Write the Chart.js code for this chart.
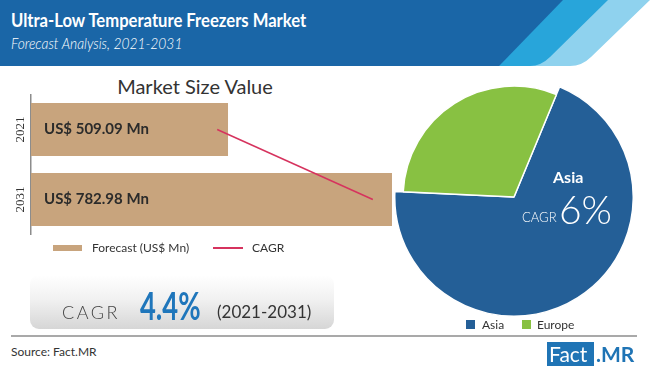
<!DOCTYPE html>
<html>
<head>
<meta charset="utf-8">
<script src="https://cdn.jsdelivr.net/npm/chart.js@4.4.0/dist/chart.umd.min.js"></script>
<style>
  body { margin: 0; width: 650px; height: 370px; overflow: hidden; background: #fff; position: relative; font-family: Lato, "Open Sans", sans-serif; color: #333; }
  .abs { position: absolute; white-space: nowrap; }
  #title { left: 11px; top: 10px; font-size: 19px; font-weight: bold; color: #fff; line-height: 19px; transform: scaleX(0.875); transform-origin: left top; }
  #subtitle { left: 11px; top: 36px; font-size: 15px; font-style: italic; color: #fff; line-height: 15px; font-weight: 300; transform: scaleX(0.92); transform-origin: left top; }
  #barTitle { left: 0; width: 390px; text-align: center; top: 76px; font-size: 20px; line-height: 20px; color: #333; }
  .lg { font-size: 12px; line-height: 12px; top: 242px; color: #333; }
  #cagrBox { left: 30px; top: 275px; width: 304px; height: 54px; border-radius: 9px; background: linear-gradient(to bottom, #ffffff 0%, #f1f1f1 45%, #d6d6d6 100%); }
  #rule { left: 11px; top: 335px; width: 626px; height: 2px; background: #a9a9a9; }
</style>
</head>
<body>
<svg class="abs" style="left:0;top:0" width="650" height="66">
  <path d="M0 0 H650 L591 57 Q582 66 570 66 H0 Z" fill="#8fd2ee"/>
  <path d="M0 0 H608 L550 57 Q541 66 530 66 H0 Z" fill="#28a5da"/>
  <path d="M0 0 H563 L499 66 H0 Z" fill="#1a66a7"/>
</svg>
<div id="title" class="abs">Ultra-Low Temperature Freezers Market</div>
<div id="subtitle" class="abs">Forecast Analysis, 2021-2031</div>

<div id="barTitle" class="abs">Market Size Value</div>
<canvas id="barChart" class="abs" style="left:0;top:66px" width="395" height="180"></canvas>

<div class="abs" style="left:53px;top:245px;width:29px;height:6px;background:#c8a47d"></div>
<div class="abs lg" style="left:92px">Forecast (US$ Mn)</div>
<div class="abs" style="left:213px;top:247px;width:30px;height:2px;background:#d6335e"></div>
<div class="abs lg" style="left:252px">CAGR</div>

<div id="cagrBox" class="abs"></div>
<div class="abs" style="left:62px;top:303px;font-size:18px;line-height:18px;letter-spacing:2.5px;color:#444;font-weight:300">CAGR</div>
<div class="abs" style="left:140px;top:286px;font-size:38px;line-height:38px;font-weight:bold;color:#1f76bb;transform:scaleX(0.72);transform-origin:left top">4.4%</div>
<div class="abs" style="left:217px;top:303px;font-size:17px;line-height:17px;color:#333">(2021-2031)</div>

<canvas id="pieChart" class="abs" style="left:394px;top:77px" width="240" height="240"></canvas>
<div class="abs" style="left:553px;top:169px;font-size:16px;line-height:16px;font-weight:bold;color:#fff">Asia</div>
<div class="abs" style="left:522px;top:211px;font-size:13px;line-height:13px;color:#fff;font-weight:300">CAGR</div>
<div class="abs" style="left:559px;top:190px;font-size:39px;line-height:39px;color:#fff;font-weight:300">6%</div>

<div class="abs" style="left:466px;top:320px;width:9px;height:9px;background:#245f97"></div>
<div class="abs lg" style="left:482px;top:319px">Asia</div>
<div class="abs" style="left:522px;top:320px;width:9px;height:9px;background:#88c142"></div>
<div class="abs lg" style="left:537px;top:319px">Europe</div>

<div id="rule" class="abs"></div>
<div class="abs" style="left:11px;top:346px;font-size:12px;line-height:12px;color:#333">Source: Fact.MR</div>
<div class="abs" style="left:547px;top:342px;width:47px;height:24px;background:#1f74b5"></div>
<div class="abs" style="left:549px;top:343px;font-size:21px;line-height:21px;color:#fff">Fact</div>
<div class="abs" style="left:596px;top:343px;font-size:21px;line-height:21px;color:#1f74b5;font-weight:bold">.MR</div>

<script>
const years = ['2021', '2031'];
const marketValue = [509.09, 782.98];
const cagrLine = [491, 751];
const regions = ['Asia', 'Europe'];
const regionShare = [69.5, 30.5];

Chart.defaults.font.family = 'Lato';

const barLabels = {
    id: 'barLabels',
    afterDatasetsDraw(chart) {
        const ctx = chart.ctx;
        const x = chart.scales.x;
        const y = chart.scales.y;
        ctx.save();
        ctx.textBaseline = 'middle';
        ctx.fillStyle = '#2b2b2b';
        ctx.font = 'bold 15px Lato';
        marketValue.forEach(function (v, i) {
            ctx.fillText('US$ ' + v.toFixed(2) + ' Mn', x.left + 13, y.getPixelForValue(i));
        });
        ctx.fillStyle = '#333';
        ctx.font = '13px "Liberation Serif"';
        ctx.textAlign = 'center';
        years.forEach(function (yr, i) {
            ctx.save();
            ctx.translate(x.left - 10.5, y.getPixelForValue(i));
            ctx.rotate(-Math.PI / 2);
            ctx.fillText(yr, 0, 0);
            ctx.restore();
        });
        ctx.restore();
    }
};

new Chart(document.getElementById('barChart'), {
    type: 'bar',
    data: {
        labels: years,
        datasets: [{
            type: 'line',
            label: 'CAGR',
            data: cagrLine,
            indexAxis: 'y',
            borderColor: '#d6335e',
            borderWidth: 1.5,
            pointRadius: 0,
            order: 0
        }, {
            label: 'Forecast (US$ Mn)',
            data: marketValue,
            backgroundColor: '#c8a47d',
            categoryPercentage: 1,
            barPercentage: 0.76,
            order: 1
        }]
    },
    options: {
        indexAxis: 'y',
        responsive: false,
        animation: false,
        devicePixelRatio: 1,
        layout: { padding: { left: 31, right: 3, top: 28.5, bottom: 11.5 } },
        plugins: { legend: { display: false }, tooltip: { enabled: false } },
        scales: {
            x: { type: 'linear', min: 180, max: 783, display: false },
            y: {
                ticks: { display: false },
                grid: { display: false, drawTicks: false },
                border: { display: true, color: '#8c8c8c', width: 1.5 }
            }
        }
    },
    plugins: [barLabels]
});

const slimEurope = {
    id: 'slimEurope',
    afterDatasetsUpdate(chart) {
        const arc = chart.getDatasetMeta(0).data[1];
        arc.outerRadius = arc.outerRadius * 0.93;
    }
};

new Chart(document.getElementById('pieChart'), {
    type: 'pie',
    data: {
        labels: regions,
        datasets: [{
            data: regionShare,
            backgroundColor: ['#245f97', '#88c142'],
            borderColor: '#ffffff',
            borderWidth: 1.5
        }]
    },
    options: {
        responsive: false,
        animation: false,
        devicePixelRatio: 1,
        rotation: 22.5,
        plugins: { legend: { display: false }, tooltip: { enabled: false } }
    },
    plugins: [slimEurope]
});
</script>
</body>
</html>
